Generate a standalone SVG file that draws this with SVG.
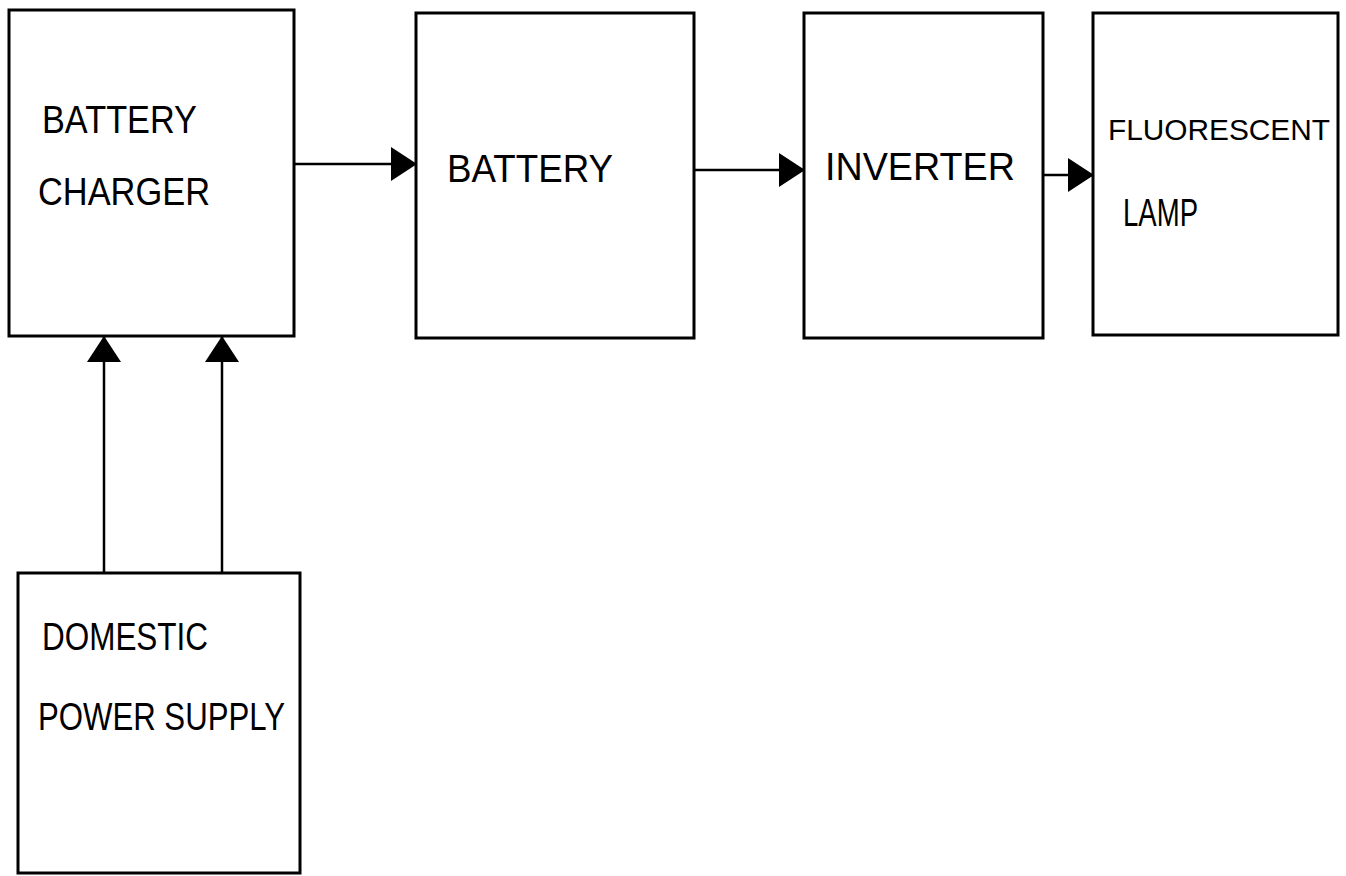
<svg xmlns="http://www.w3.org/2000/svg" width="1346" height="876" viewBox="0 0 1346 876">
  <style>
    .box { fill: #ffffff; stroke: #000000; stroke-width: 3; }
    .conn { stroke: #000000; stroke-width: 2.5; fill: none; }
    .lbl { font-family: "Liberation Sans", Arial, sans-serif; font-size: 38px; fill: #000000; }
    .lbl-sm { font-family: "Liberation Sans", Arial, sans-serif; font-size: 30px; fill: #000000; }
  </style>
  <defs>
    <marker id="arrow" viewBox="0 0 26 34" refX="25" refY="17" markerWidth="26" markerHeight="34" markerUnits="userSpaceOnUse" orient="auto">
      <path d="M0,0 L26,17 L0,34 Z" fill="#000000"/>
    </marker>
  </defs>
  <rect width="1346" height="876" fill="#ffffff"/>

  <g id="battery-charger">
    <rect class="box" x="9" y="10" width="285" height="326"/>
    <text class="lbl" x="42" y="133" textLength="155" lengthAdjust="spacingAndGlyphs">BATTERY</text>
    <text class="lbl" x="38" y="205" textLength="172" lengthAdjust="spacingAndGlyphs">CHARGER</text>
  </g>

  <g id="battery">
    <rect class="box" x="416" y="13" width="278" height="325"/>
    <text class="lbl" x="447" y="182" textLength="166" lengthAdjust="spacingAndGlyphs">BATTERY</text>
  </g>

  <g id="inverter">
    <rect class="box" x="804" y="13" width="239" height="325"/>
    <text class="lbl" x="825" y="180" textLength="190" lengthAdjust="spacingAndGlyphs">INVERTER</text>
  </g>

  <g id="fluorescent-lamp">
    <rect class="box" x="1093" y="13" width="245" height="322"/>
    <text class="lbl-sm" x="1108" y="140" textLength="222" lengthAdjust="spacingAndGlyphs">FLUORESCENT</text>
    <text class="lbl" x="1123" y="226" textLength="75" lengthAdjust="spacingAndGlyphs">LAMP</text>
  </g>

  <g id="domestic-power-supply">
    <rect class="box" x="18" y="573" width="282" height="300"/>
    <text class="lbl" x="42" y="650" textLength="166" lengthAdjust="spacingAndGlyphs">DOMESTIC</text>
    <text class="lbl" x="38" y="730" textLength="247" lengthAdjust="spacingAndGlyphs">POWER SUPPLY</text>
  </g>

  <g id="connectors">
    <line class="conn" x1="294" y1="164" x2="416" y2="164" marker-end="url(#arrow)"/>
    <line class="conn" x1="694" y1="170" x2="804" y2="170" marker-end="url(#arrow)"/>
    <line class="conn" x1="1043" y1="175" x2="1093" y2="175" marker-end="url(#arrow)"/>
    <line class="conn" x1="104" y1="573" x2="104" y2="337" marker-end="url(#arrow)"/>
    <line class="conn" x1="222" y1="573" x2="222" y2="337" marker-end="url(#arrow)"/>
  </g>
</svg>
